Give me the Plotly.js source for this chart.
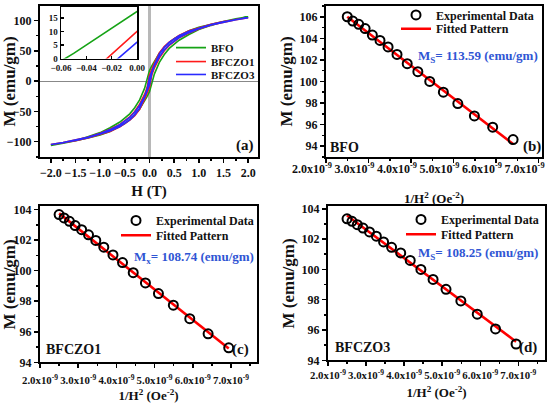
<!DOCTYPE html>
<html><head><meta charset="utf-8">
<script src="https://cdn.plot.ly/plotly-3.0.1.min.js"></script>
<style>html,body{margin:0;padding:0;background:#fff}#g{width:558px;height:409px}</style>
</head><body><div id="g"></div>
<script>
// ---------- DATA ----------
const SAMPLES = ['BFO', 'BFCZO1', 'BFCZO3'];
const MS_VALUES = ['113.59', '108.74', '108.25'];
const PANEL_TAGS = ['(a)', '(b)', '(c)', '(d)'];

// Hysteresis loops, field H (T)
const H_DESC = [2.0, 1.75, 1.5, 1.25, 1.0, 0.8, 0.6, 0.5, 0.4, 0.3, 0.2, 0.1, 0.05, 0, -0.05, -0.1, -0.2, -0.3, -0.4, -0.5, -0.6, -0.8, -1.0, -1.25, -1.5, -1.75, -2.0];
const H_ASC  = [-2.0, -1.75, -1.5, -1.25, -1.0, -0.8, -0.6, -0.5, -0.4, -0.3, -0.2, -0.1, -0.05, 0, 0.05, 0.1, 0.2, 0.3, 0.4, 0.5, 0.6, 0.8, 1.0, 1.25, 1.5, 1.75, 2.0];
const M_BFO_DESC = [106, 103, 98.5, 94, 89, 83, 75, 70, 63.5, 56, 46, 33, 25.5, 17.3, 1.9, -12, -31, -44, -54, -61.5, -67.5, -77, -85, -92, -98.5, -102.5, -106];
const M_BFO_ASC  = [-106, -102.5, -98.5, -94, -89, -83, -75, -70, -63.5, -56, -46, -33, -25.5, -17.3, -1.9, 12, 31, 44, 54, 61.5, 67.5, 77, 85, 92, 98.5, 102.5, 106];
const M_BFCZO1_DESC = [104.5, 102, 98.5, 94, 88.5, 83, 75.5, 70.5, 64.5, 57, 46.5, 30, 20, 10, -11, -22, -38, -50, -59, -66, -71.5, -79.5, -86, -92.5, -97.5, -101.5, -104.5];
const M_BFCZO1_ASC  = [-104.5, -102, -98.5, -94, -88.5, -83, -75.5, -70.5, -64.5, -57, -46.5, -30, -20, -10, 11, 22, 38, 50, 59, 66, 71.5, 79.5, 86, 92.5, 97.5, 101.5, 104.5];
const M_BFCZO3_DESC = [104.5, 101.5, 98, 93.5, 88, 82.5, 75, 70, 64, 56, 45, 27, 17, 6, -14, -25, -40, -51.5, -60, -66.5, -72, -80, -86.5, -92.5, -97.5, -101.5, -104.5];
const M_BFCZO3_ASC  = [-104.5, -101.5, -98, -93.5, -88, -82.5, -75, -70, -64, -56, -45, -27, -17, -6, 14, 25, 40, 51.5, 60, 66.5, 72, 80, 86.5, 92.5, 97.5, 101.5, 104.5];

// Law of approach to saturation: 1/H^2 (Oe^-2) vs M (emu/gm)
const INV_H2_B  = [2.50e-9, 2.63e-9, 2.77e-9, 2.92e-9, 3.09e-9, 3.27e-9, 3.46e-9, 3.67e-9, 3.91e-9, 4.16e-9, 4.44e-9, 4.76e-9, 5.10e-9, 5.49e-9, 5.92e-9, 6.40e-9];
const INV_H2_CD = [2.50e-9, 2.63e-9, 2.77e-9, 2.92e-9, 3.09e-9, 3.27e-9, 3.46e-9, 3.67e-9, 3.91e-9, 4.16e-9, 4.44e-9, 4.76e-9, 5.10e-9, 5.49e-9, 5.92e-9, 6.40e-9, 6.94e-9];
const M_EXP_BFO    = [106.0, 105.6, 105.3, 104.9, 104.3, 103.8, 103.2, 102.5, 101.65, 100.9, 100.0, 99.0, 97.95, 96.8, 95.75, 94.6];
const M_EXP_BFCZO1 = [103.67, 103.45, 103.23, 102.95, 102.68, 102.35, 101.98, 101.54, 101.03, 100.53, 99.87, 99.2, 98.5, 97.74, 96.86, 95.87, 94.95];
const M_EXP_BFCZO3 = [103.34, 103.17, 102.95, 102.73, 102.47, 102.19, 101.81, 101.46, 101.09, 100.59, 100.0, 99.34, 98.69, 97.92, 97.05, 96.07, 95.08];
const FIT_X_B  = [2.50e-9, 6.40e-9];
const FIT_X_CD = [2.50e-9, 6.94e-9];
const FIT_M_BFO    = [106.0, 94.2];
const FIT_M_BFCZO1 = [103.75, 94.9];
const FIT_M_BFCZO3 = [103.56, 95.23];

const INV_TICKS = [2e-9, 3e-9, 4e-9, 5e-9, 6e-9, 7e-9];
const INV_TICKTEXT = ['2.0x10<sup>-9</sup>', '3.0x10<sup>-9</sup>', '4.0x10<sup>-9</sup>', '5.0x10<sup>-9</sup>', '6.0x10<sup>-9</sup>', '7.0x10<sup>-9</sup>'];

// ---------- STYLE ----------
const W = 558, Hh = 409;
const F = 'Liberation Serif';
const COLORS = ['#16a316', '#ff1a1a', '#2a2aff'];
const BLUE_TXT = '#2f55d4';
const px = v => v / W, py = v => 1 - v / Hh;
const tickFont = {family: F, size: 12, color: '#111', weight: 700};
const yTitleFont = {family: F, size: 17, color: '#111', weight: 700};
const invXTitleFont = {family: F, size: 13, color: '#111', weight: 700};
const invTickFontB = {family: F, size: 12, color: '#111', weight: 700};
const invTickFontCD = {family: F, size: 10.8, color: '#111', weight: 700};

function baseAxis(extra) {
  return Object.assign({
    showline: true, linewidth: 2, linecolor: '#000', mirror: true,
    ticks: 'outside', ticklen: 4, tickwidth: 1.5, tickcolor: '#000',
    showgrid: false, zeroline: false, tickfont: tickFont, automargin: false,
    tickangle: 0, fixedrange: true
  }, extra);
}
const minorX = {dtick: 0.5e-9, tick0: 0, ticks: 'outside', ticklen: 2, tickcolor: '#000'};
const minorY = {dtick: 1, ticks: 'outside', ticklen: 2, tickcolor: '#000'};

const loopDesc = [M_BFO_DESC, M_BFCZO1_DESC, M_BFCZO3_DESC];
const loopAsc = [M_BFO_ASC, M_BFCZO1_ASC, M_BFCZO3_ASC];
const traces = [];
// panel (a) loops
SAMPLES.forEach((s, i) => {
  traces.push({
    type: 'scatter', mode: 'lines', name: s,
    x: H_DESC.concat(H_ASC), y: loopDesc[i].concat(loopAsc[i]),
    line: {color: COLORS[i], width: 1.6}, xaxis: 'x', yaxis: 'y',
    legend: i === 0 ? 'legend' : 'legend' + (i + 1)
  });
});
// inset
SAMPLES.forEach((s, i) => {
  traces.push({
    type: 'scatter', mode: 'lines', name: s, showlegend: false,
    x: H_DESC.concat(H_ASC), y: loopDesc[i].concat(loopAsc[i]),
    line: {color: COLORS[i], width: 1.6}, xaxis: 'x5', yaxis: 'y5'
  });
});
// panels b, c, d
const expX = [INV_H2_B, INV_H2_CD, INV_H2_CD];
const expM = [M_EXP_BFO, M_EXP_BFCZO1, M_EXP_BFCZO3];
const fitX = [FIT_X_B, FIT_X_CD, FIT_X_CD];
const fitM = [FIT_M_BFO, FIT_M_BFCZO1, FIT_M_BFCZO3];
for (let k = 0; k < 3; k++) {
  const ax = k + 2;
  traces.push({
    type: 'scatter', mode: 'lines', name: 'Fitted Pattern',
    x: fitX[k], y: fitM[k], line: {color: '#ff0000', width: 2.6},
    xaxis: 'x' + ax, yaxis: 'y' + ax, legend: 'legend' + (5 + 2 * k)
  });
  traces.push({
    type: 'scatter', mode: 'markers', name: 'Experimental Data',
    x: expX[k], y: expM[k],
    marker: {symbol: 'circle-open', size: 9, color: '#000', line: {width: 2, color: '#000'}},
    xaxis: 'x' + ax, yaxis: 'y' + ax, legend: 'legend' + (4 + 2 * k)
  });
}

function leg(xp, yp, size) {
  return {x: px(xp), y: py(yp), xanchor: 'left', yanchor: 'middle',
    bgcolor: 'rgba(0,0,0,0)', borderwidth: 0,
    font: {family: F, size: size, color: '#111', weight: 700}};
}
function ann(text, xp, yp, size, color) {
  return {text: text, x: px(xp), y: py(yp), xref: 'paper', yref: 'paper',
    xanchor: 'center', yanchor: 'middle', showarrow: false,
    font: {family: F, size: size, color: color || '#111', weight: 700}};
}

const invTitle = '1/H<sup>2</sup> (Oe<sup>-2</sup>)';
const mTitle = 'M (emu/gm)';

const layout = {
  width: W, height: Hh, margin: {l: 0, r: 0, t: 0, b: 0},
  paper_bgcolor: '#fff', plot_bgcolor: '#fff', showlegend: true,
  font: {family: F, color: '#111'},
  xaxis: baseAxis({domain: [px(40), px(258)], range: [-2.22, 2.2], dtick: 0.5, tickformat: '.1f',
    minor: {dtick: 0.25, ticks: 'outside', ticklen: 2, tickcolor: '#000'},
    zeroline: true, zerolinecolor: '#b8b8b8', zerolinewidth: 2.5,
    title: {text: 'H (T)', font: {family: F, size: 15, color: '#111', weight: 700}, standoff: 6}, anchor: 'y'}),
  yaxis: baseAxis({domain: [py(155), py(3)], range: [-125, 124], dtick: 50,
    minor: {dtick: 25, ticks: 'outside', ticklen: 2, tickcolor: '#000'},
    zeroline: true, zerolinecolor: '#888', zerolinewidth: 1,
    title: {text: mTitle, font: yTitleFont, standoff: 1}, anchor: 'x'}),
  xaxis2: baseAxis({domain: [px(326), px(542)], range: [2e-9, 7.08e-9], tickmode: 'array',
    tickvals: INV_TICKS, ticktext: INV_TICKTEXT, tickfont: invTickFontB, ticklabelshift: -14, ticklabelstandoff: -4,
    minor: minorX,
    title: {text: invTitle, font: invXTitleFont, standoff: 19}, anchor: 'y2'}),
  yaxis2: baseAxis({domain: [py(155), py(3)], range: [93, 107], dtick: 2, minor: minorY,
    title: {text: mTitle, font: yTitleFont, standoff: 3}, anchor: 'x2'}),
  xaxis3: baseAxis({domain: [px(40), px(257)], range: [2e-9, 7.68e-9], tickmode: 'array',
    tickvals: INV_TICKS, ticktext: INV_TICKTEXT, tickfont: invTickFontCD, ticklabelstandoff: 3,
    minor: minorX,
    title: {text: invTitle, font: invXTitleFont, standoff: 6}, anchor: 'y3'}),
  yaxis3: baseAxis({domain: [py(362), py(205)], range: [94, 104.2], dtick: 2, minor: minorY,
    title: {text: mTitle, font: yTitleFont, standoff: 1}, anchor: 'x3'}),
  xaxis4: baseAxis({domain: [px(328), px(545)], range: [2e-9, 7.7e-9], tickmode: 'array',
    tickvals: INV_TICKS, ticktext: INV_TICKTEXT, tickfont: invTickFontCD,
    minor: minorX,
    title: {text: invTitle, font: invXTitleFont, standoff: 8}, anchor: 'y4'}),
  yaxis4: baseAxis({domain: [py(360), py(205)], range: [94, 104.15], dtick: 2, minor: minorY,
    title: {text: mTitle, font: yTitleFont, standoff: 3}, anchor: 'x4'}),
  xaxis5: baseAxis({domain: [px(61), px(137)], range: [-0.06, 0], dtick: 0.02, tickformat: '.2f',
    ticks: 'inside', ticklen: 3, linewidth: 1.5, tickfont: {family: F, size: 9, color: '#111', weight: 700}, anchor: 'y5'}),
  yaxis5: baseAxis({domain: [py(56), py(4)], range: [0, 19], dtick: 5,
    ticks: 'inside', ticklen: 3, linewidth: 1.5, tickfont: {family: F, size: 9, color: '#111', weight: 700}, anchor: 'x5'}),
  legend: leg(171, 45, 11),
  legend2: leg(171, 59, 11),
  legend3: leg(171, 72, 11),
  legend4: leg(396, 12, 12),
  legend5: leg(396, 26, 12),
  legend6: leg(116, 219, 12),
  legend7: leg(116, 234, 12),
  legend8: leg(401, 218, 12),
  legend9: leg(401, 233, 12),
  annotations: [
    ann(PANEL_TAGS[0], 245, 144, 15),
    ann(PANEL_TAGS[1], 532, 145, 15),
    ann(PANEL_TAGS[2], 240, 349, 15),
    ann(PANEL_TAGS[3], 528, 347, 15),
    ann(SAMPLES[0], 344, 146, 14),
    ann(SAMPLES[1], 73, 349, 14),
    ann(SAMPLES[2], 362, 347, 14),
    ann('M<sub>S</sub>= ' + MS_VALUES[0] + ' (emu/gm)', 478, 54, 13, BLUE_TXT),
    ann('M<sub>x</sub>= ' + MS_VALUES[1] + ' (emu/gm)', 194, 256, 13, BLUE_TXT),
    ann('M<sub>S</sub>= ' + MS_VALUES[2] + ' (emu/gm)', 478, 252, 13, BLUE_TXT)
  ]
};

Plotly.newPlot('g', traces, layout, {staticPlot: true, displayModeBar: false});
</script></body></html>
